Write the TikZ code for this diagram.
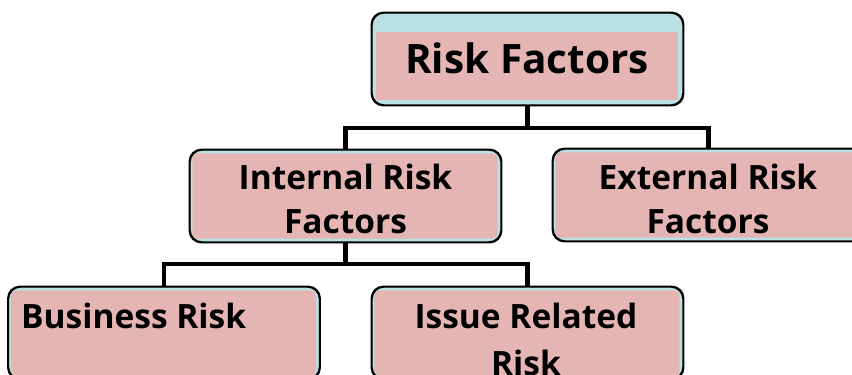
\documentclass[tikz,border=0pt]{standalone}
\usepackage{fontspec}
\setmainfont{Open Sans}
\usetikzlibrary{calc}
\definecolor{boxblue}{HTML}{B9E0E4}
\definecolor{boxpink}{HTML}{E5B5B4}
\tikzset{
  riskbox/.style={draw=black, line width=1.4pt, fill=boxblue, rounded corners=12pt,
    minimum width=311pt, minimum height=92pt, inner sep=0pt},
  pinkfill/.style={fill=boxpink, rounded corners=6pt},
  conn/.style={line width=4.5pt, line cap=butt},
  bigtxt/.style={font=\fontsize{40.5}{48}\selectfont\bfseries, inner sep=0pt, anchor=base},
  midtxt/.style={font=\fontsize{33.5}{40}\selectfont\bfseries, inner sep=0pt, anchor=base}
}
\begin{document}
\begin{tikzpicture}[x=1pt,y=-1pt]
\useasboundingbox (0,0) rectangle (852,375);
\clip (0,0) rectangle (852,375);
% boxes
\node[riskbox] (root) at (527.5,59) {};
\node[riskbox] (int) at (345.5,196) {};
\node[riskbox] (ext) at (708.5,195) {};
\node[riskbox] (bus) at (164,333) {};
\node[riskbox] (iss) at (527.5,333) {};
% inner pink areas
\fill[fill=boxpink] ($(root.north west)+(5,20)$) rectangle ($(root.south east)+(-6,-6)$);
\fill[pinkfill] ($(int.north west)+(3,4)$) rectangle ($(int.south east)+(-4,-4)$);
\fill[pinkfill] ($(ext.north west)+(3,4)$) rectangle ($(ext.south east)+(-4,-4)$);
\fill[pinkfill] ($(bus.north west)+(3,4)$) rectangle ($(bus.south east)+(-4,-4)$);
\fill[pinkfill] ($(iss.north west)+(3,4)$) rectangle ($(iss.south east)+(-4,-4)$);
% redraw outlines on top
\foreach \n in {root,int,ext,bus,iss}{
  \draw[line width=1.4pt, rounded corners=12pt] (\n.north west) rectangle (\n.south east);
}
% texts
\node[bigtxt] (troot) at (527,73) {Risk Factors};
\node[midtxt] (tint1) at (345.5,189) {Internal Risk};
\node[midtxt] (tint2) at (345.5,233) {Factors};
\node[midtxt] (text1) at (708,189) {External Risk};
\node[midtxt] (text2) at (708,233) {Factors};
\node[midtxt, anchor=base west] (tbus) at (21,328) {Business Risk};
\node[midtxt] (tiss1) at (526,328) {Issue Related};
\node[midtxt] (tiss2) at (526,375) {Risk};
% connectors
\coordinate (j1) at (527.5,128);
\coordinate (j2) at (345.5,264);
\draw[conn] (root.south) -- (j1);
\draw[conn] (int.north) |- (j1) -| (ext.north);
\draw[conn] (int.south) -- (j2);
\draw[conn] (bus.north) |- (j2) -| (iss.north);
\end{tikzpicture}
\end{document}
